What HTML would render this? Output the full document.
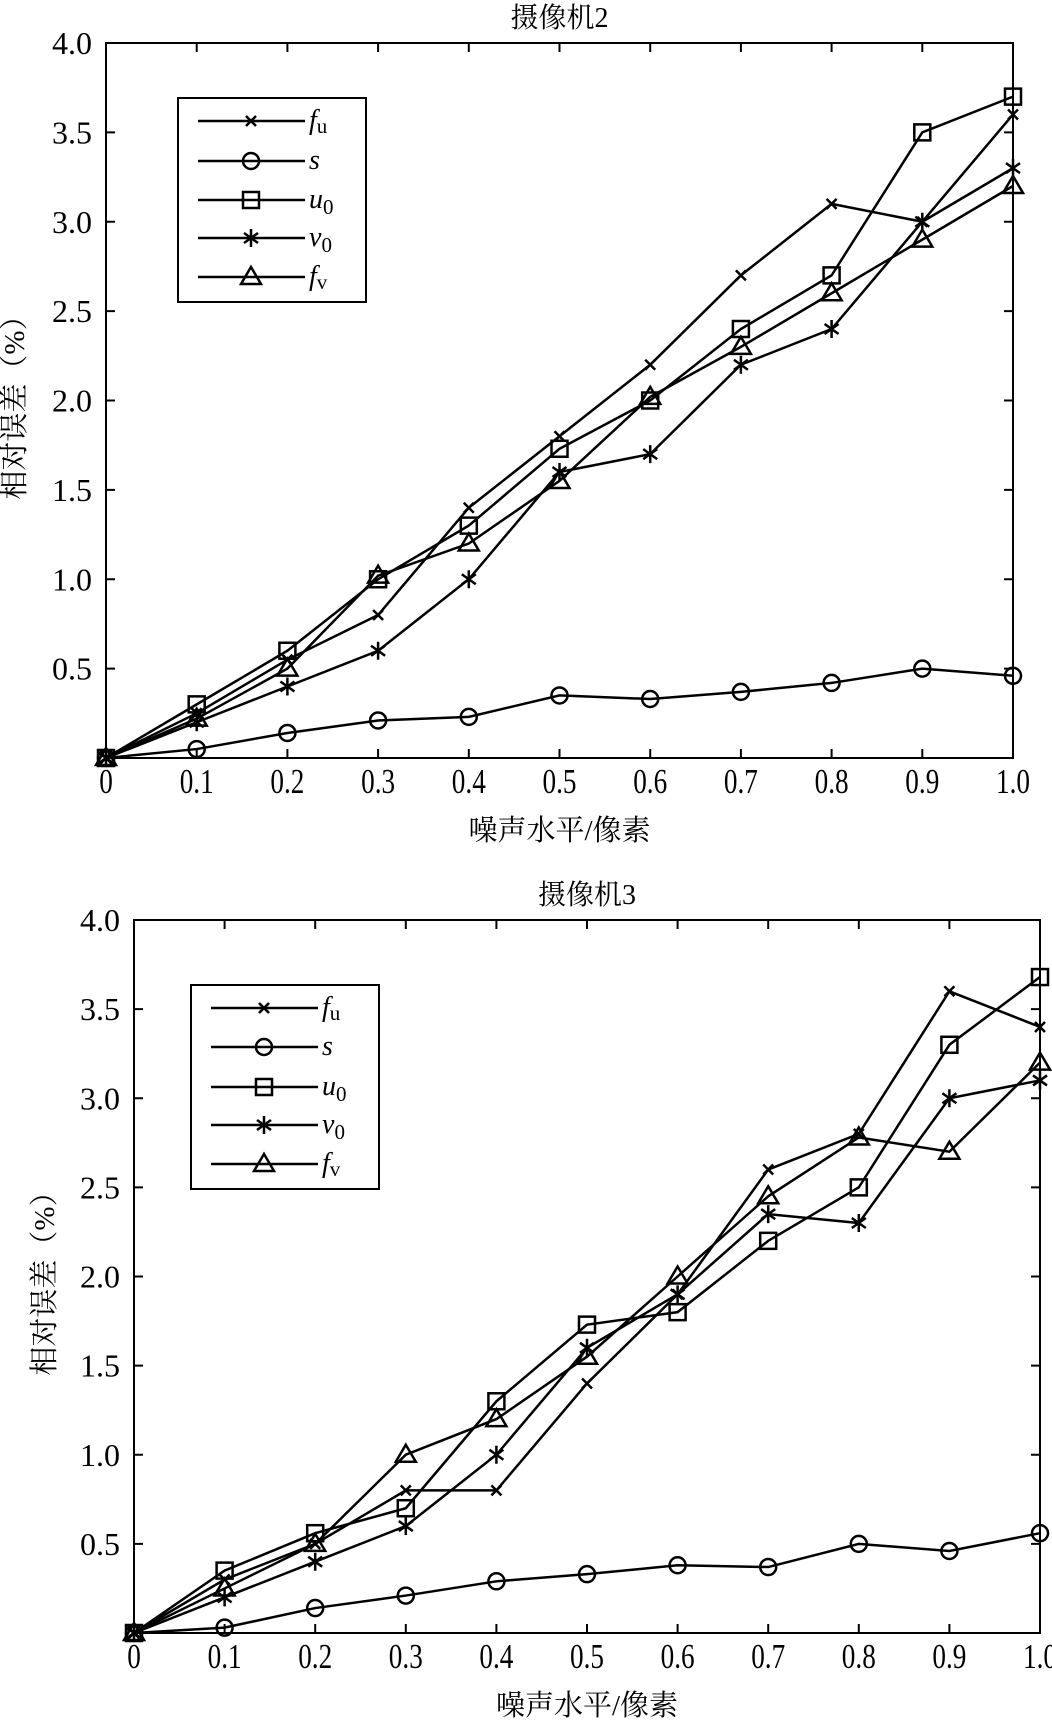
<!DOCTYPE html>
<html><head><meta charset="utf-8"><style>
body{margin:0;background:#fff}
svg text{font-family:"Liberation Serif","Noto Serif CJK SC",serif;fill:#000}
</style></head><body>
<svg id="s" width="1052" height="1723" xmlns="http://www.w3.org/2000/svg"></svg>
<script>
const S=document.getElementById('s');let h='';
function chart(c){
 const {x0,x1,y0,y1}=c; const X=v=>x0+(x1-x0)*v, Y=v=>y1-(y1-y0)*v/4;
 h+=`<text x="${(x0+x1)/2}" y="${y0-16}" font-size="28" text-anchor="middle">${c.title}</text>`;
 h+=`<rect x="${x0}" y="${y0}" width="${x1-x0}" height="${y1-y0}" fill="none" stroke="#000" stroke-width="2"/>`;
 for(let i=0;i<=10;i++){const x=X(i/10);
  h+=`<line x1="${x}" y1="${y1}" x2="${x}" y2="${y1-9}" stroke="#000" stroke-width="2"/><line x1="${x}" y1="${y0}" x2="${x}" y2="${y0+9}" stroke="#000" stroke-width="2"/>`;
  h+=`<text x="${x}" y="${y1+35}" font-size="32" text-anchor="middle" transform="translate(${x} ${y1+35}) scale(0.85 1.1) translate(${-x} ${-(y1+35)})">${i==0?'0':i==10?'1.0':'0.'+i}</text>`;}
 for(let i=1;i<=8;i++){const y=Y(i/2);
  h+=`<line x1="${x0}" y1="${y}" x2="${x0+9}" y2="${y}" stroke="#000" stroke-width="2"/><line x1="${x1}" y1="${y}" x2="${x1-9}" y2="${y}" stroke="#000" stroke-width="2"/>`;
  h+=`<text x="${x0-14}" y="${y+11}" font-size="32" text-anchor="end">${(i/2).toFixed(1)}</text>`;}
 h+=`<text x="${(x0+x1)/2}" y="${c.xly}" font-size="29" text-anchor="middle">噪声水平/像素</text>`;
 h+=`<text transform="translate(${c.ylx} ${(y0+y1)/2}) rotate(-90)" font-size="29" text-anchor="middle">相对误差（%）</text>`;
 const mk=['x','o','s','*','t'];
 c.data.forEach((d,k)=>{h+=`<polyline fill="none" stroke="#000" stroke-width="2.5" points="${d.map((v,i)=>X(i/10)+','+Y(v)).join(' ')}"/>`;
  d.forEach((v,i)=>marker(mk[k],X(i/10),Y(v)));});
 const L=c.leg; h+=`<rect x="${L.x}" y="${L.y}" width="${L.w}" height="${L.h}" fill="#fff" stroke="#000" stroke-width="2"/>`;
 const labs=['<tspan font-style="italic">f</tspan><tspan font-size="21" dy="4">u</tspan>','<tspan font-style="italic">s</tspan>','<tspan font-style="italic">u</tspan><tspan font-size="21" dy="6">0</tspan>','<tspan font-style="italic">v</tspan><tspan font-size="21" dy="6">0</tspan>','<tspan font-style="italic">f</tspan><tspan font-size="21" dy="4">v</tspan>'];
 L.rows.forEach((y,k)=>{h+=`<line x1="${L.lx}" y1="${y}" x2="${L.lx+107}" y2="${y}" stroke="#000" stroke-width="2.5"/>`;marker(mk[k],L.lx+53,y);
  h+=`<text x="${L.lx+111}" y="${y+8}" font-size="28">${labs[k]}</text>`;});
}
function marker(t,x,y){
 const st='fill="none" stroke="#000" stroke-width="2.5"';
 if(t=='x')h+=`<path d="M${x-5} ${y-5}L${x+5} ${y+5}M${x-5} ${y+5}L${x+5} ${y-5}" ${st}/>`;
 if(t=='o')h+=`<circle cx="${x}" cy="${y}" r="8" ${st}/>`;
 if(t=='s')h+=`<rect x="${x-8}" y="${y-8}" width="16" height="16" ${st}/>`;
 if(t=='*')h+=`<path d="M${x} ${y-9}V${y+9}M${x-7} ${y-5}L${x+7} ${y+5}M${x-7} ${y+5}L${x+7} ${y-5}" ${st}/>`;
 if(t=='t')h+=`<path d="M${x} ${y-10}L${x+10} ${y+7}L${x-10} ${y+7}Z" ${st}/>`;
}
chart({title:'摄像机2',x0:106,x1:1013,y0:43,y1:758,xly:840,ylx:24,
 data:[[0,0.25,0.55,0.8,1.4,1.8,2.2,2.7,3.1,3.0,3.6],[0,0.05,0.14,0.21,0.23,0.35,0.33,0.37,0.42,0.50,0.46],[0,0.3,0.6,1.0,1.3,1.73,2.0,2.4,2.7,3.5,3.7],[0,0.2,0.4,0.6,1.0,1.6,1.7,2.2,2.4,3.0,3.3],[0,0.22,0.5,1.02,1.2,1.55,2.02,2.3,2.6,2.9,3.2]],
 leg:{x:178,y:98,w:188,h:204,lx:198,rows:[121,161,200,238,277]}});
chart({title:'摄像机3',x0:134,x1:1040,y0:920,y1:1633,xly:1715,ylx:54,
 data:[[0,0.3,0.5,0.8,0.8,1.4,1.9,2.6,2.8,3.6,3.4],[0,0.03,0.14,0.21,0.29,0.33,0.38,0.37,0.5,0.46,0.56],[0,0.35,0.56,0.7,1.3,1.73,1.8,2.2,2.5,3.3,3.68],[0,0.2,0.4,0.6,1.0,1.6,1.9,2.35,2.3,3.0,3.1],[0,0.25,0.5,1.0,1.2,1.55,2.0,2.45,2.78,2.7,3.2]],
 leg:{x:191,y:985,w:188,h:204,lx:211,rows:[1008,1047,1087,1125,1164]}});
S.innerHTML=h;
</script>
</body></html>
